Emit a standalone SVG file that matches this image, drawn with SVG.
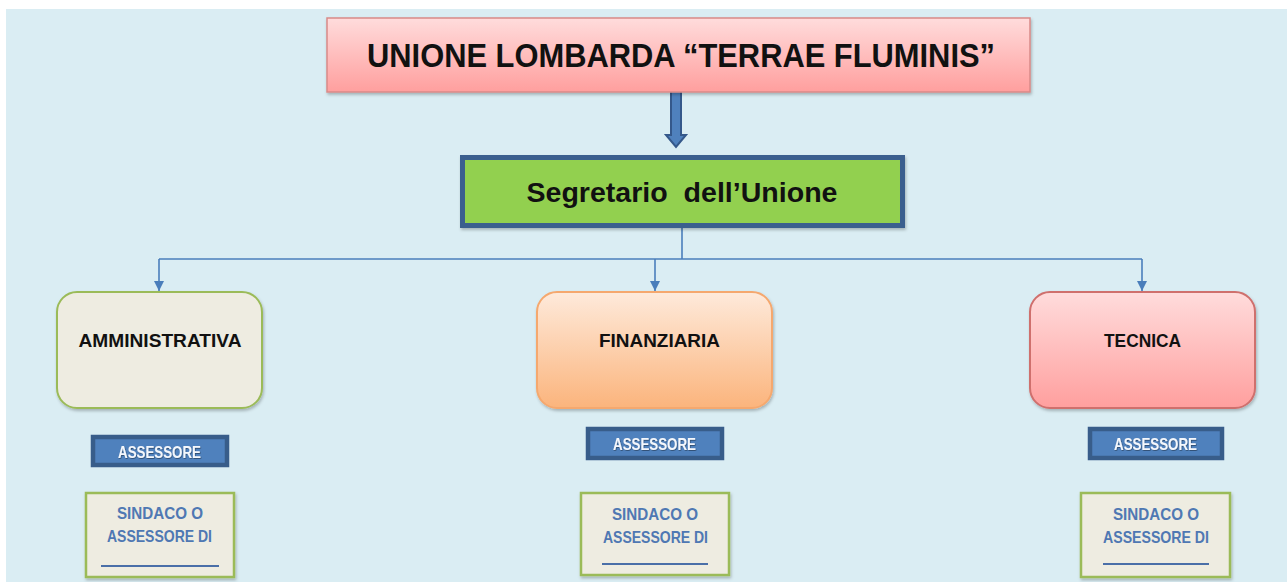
<svg xmlns="http://www.w3.org/2000/svg" width="1287" height="582" viewBox="0 0 1287 582">
  <defs>
    <linearGradient id="gPink" x1="0" y1="0" x2="0" y2="1">
      <stop offset="0" stop-color="#ffdcdc"/>
      <stop offset="1" stop-color="#ff9f9e"/>
    </linearGradient>
    <linearGradient id="gOrange" x1="0" y1="0" x2="0" y2="1">
      <stop offset="0" stop-color="#feeadb"/>
      <stop offset="1" stop-color="#fbb47c"/>
    </linearGradient>
    <filter id="sh" x="-10%" y="-10%" width="120%" height="130%">
      <feDropShadow dx="1" dy="2" stdDeviation="1.5" flood-color="#000" flood-opacity="0.25"/>
    </filter>
    <filter id="tsh" x="-10%" y="-20%" width="120%" height="150%">
      <feDropShadow dx="0.6" dy="0.8" stdDeviation="0.4" flood-color="#000" flood-opacity="0.45"/>
    </filter>
    <marker id="ah" viewBox="0 0 10 10" refX="10" refY="5" markerWidth="10" markerHeight="10" markerUnits="userSpaceOnUse" orient="auto">
      <path d="M0,0 L10,5 L0,10 z" fill="#4a7ebb"/>
    </marker>
    <style>
      .t { font-family: "Liberation Sans", Arial, sans-serif; font-weight: bold; text-anchor: middle; }
      .lbl { font-size: 19px; fill: #111; }
      .ass-box { fill: #4f81bd; stroke: #385d8a; stroke-width: 4.5; }
      .ass-t { font-family: "Liberation Sans", Arial, sans-serif; font-weight: bold; font-size: 16.5px; fill: #f4f7fc; text-anchor: middle; }
      .sin-box { fill: #eeece1; stroke: #9bbb59; stroke-width: 2.5; }
      .sin-t { font-size: 16.5px; fill: #4f78b3; }
      .uline { stroke: #4a6fa8; stroke-width: 2; }
      .conn { fill: none; stroke: #4a7ebb; stroke-width: 1.6; }
    </style>
  </defs>

  <rect x="0" y="0" width="1287" height="582" fill="#ffffff"/>
  <rect x="6" y="9" width="1281" height="573" fill="#daedf3"/>

  <g id="connectors">
    <polygon points="671,89 681,89 681,135 686,135 676,147 666,135 671,135" fill="#4f81bd" stroke="#34588a" stroke-width="2"/>
    <path class="conn" d="M682,228 V259"/>
    <path class="conn" d="M159,259 H1142"/>
    <path class="conn" d="M159,259 V291" marker-end="url(#ah)"/>
    <path class="conn" d="M655,259 V291" marker-end="url(#ah)"/>
    <path class="conn" d="M1142,259 V291" marker-end="url(#ah)"/>
  </g>

  <g id="unione">
    <rect x="327" y="18" width="703" height="74" fill="url(#gPink)" stroke="#d98a88" stroke-width="1.5" filter="url(#sh)"/>
    <text class="t" x="681" y="67" font-size="33" fill="#111" textLength="628" lengthAdjust="spacingAndGlyphs">UNIONE LOMBARDA “TERRAE FLUMINIS”</text>
  </g>

  <g id="segretario">
    <rect x="462.5" y="157.5" width="440" height="68" fill="#92d050" stroke="#3b5e8e" stroke-width="5" filter="url(#sh)"/>
    <text class="t" x="682" y="202" font-size="28" fill="#111" textLength="311" lengthAdjust="spacingAndGlyphs" xml:space="preserve">Segretario  dell’Unione</text>
  </g>

  <g id="amministrativa">
    <rect x="57" y="292" width="205" height="116" rx="20" fill="#eeece1" stroke="#9bbb59" stroke-width="2" filter="url(#sh)"/>
    <text class="t lbl" x="160" y="347" textLength="163" lengthAdjust="spacingAndGlyphs">AMMINISTRATIVA</text>
  </g>

  <g id="finanziaria">
    <rect x="537" y="292" width="235" height="116" rx="20" fill="url(#gOrange)" stroke="#f5a86e" stroke-width="2" filter="url(#sh)"/>
    <text class="t lbl" x="659.5" y="347" textLength="121" lengthAdjust="spacingAndGlyphs">FINANZIARIA</text>
  </g>

  <g id="tecnica">
    <rect x="1030" y="292" width="225" height="116" rx="20" fill="url(#gPink)" stroke="#cf6f6d" stroke-width="2" filter="url(#sh)"/>
    <text class="t lbl" x="1142.5" y="347" textLength="77" lengthAdjust="spacingAndGlyphs">TECNICA</text>
  </g>

  <g id="assessore-1">
    <rect class="ass-box" x="93" y="437" width="134" height="28"/>
    <text class="ass-t" x="159.5" y="458" textLength="83" lengthAdjust="spacingAndGlyphs" filter="url(#tsh)">ASSESSORE</text>
  </g>

  <g id="assessore-2">
    <rect class="ass-box" x="588" y="429" width="134" height="29"/>
    <text class="ass-t" x="654.5" y="449.5" textLength="83" lengthAdjust="spacingAndGlyphs" filter="url(#tsh)">ASSESSORE</text>
  </g>

  <g id="assessore-3">
    <rect class="ass-box" x="1090" y="429" width="132" height="29"/>
    <text class="ass-t" x="1155.5" y="449.5" textLength="83" lengthAdjust="spacingAndGlyphs" filter="url(#tsh)">ASSESSORE</text>
  </g>

  <g id="sindaco-1">
    <rect class="sin-box" x="86" y="493" width="148" height="84" filter="url(#sh)"/>
    <text class="t sin-t" x="160" y="519" textLength="86" lengthAdjust="spacingAndGlyphs">SINDACO O</text>
    <text class="t sin-t" x="159.5" y="542" textLength="105" lengthAdjust="spacingAndGlyphs">ASSESSORE DI</text>
    <line class="uline" x1="101" y1="566" x2="219" y2="566"/>
  </g>

  <g id="sindaco-2">
    <rect class="sin-box" x="581" y="493" width="148" height="82" filter="url(#sh)"/>
    <text class="t sin-t" x="655" y="520" textLength="86" lengthAdjust="spacingAndGlyphs">SINDACO O</text>
    <text class="t sin-t" x="655.5" y="543" textLength="105" lengthAdjust="spacingAndGlyphs">ASSESSORE DI</text>
    <line class="uline" x1="602" y1="564" x2="708" y2="564"/>
  </g>

  <g id="sindaco-3">
    <rect class="sin-box" x="1081" y="493" width="149" height="84" filter="url(#sh)"/>
    <text class="t sin-t" x="1156" y="520" textLength="86" lengthAdjust="spacingAndGlyphs">SINDACO O</text>
    <text class="t sin-t" x="1156" y="543" textLength="106" lengthAdjust="spacingAndGlyphs">ASSESSORE DI</text>
    <line class="uline" x1="1103" y1="564" x2="1209" y2="564"/>
  </g>
</svg>
